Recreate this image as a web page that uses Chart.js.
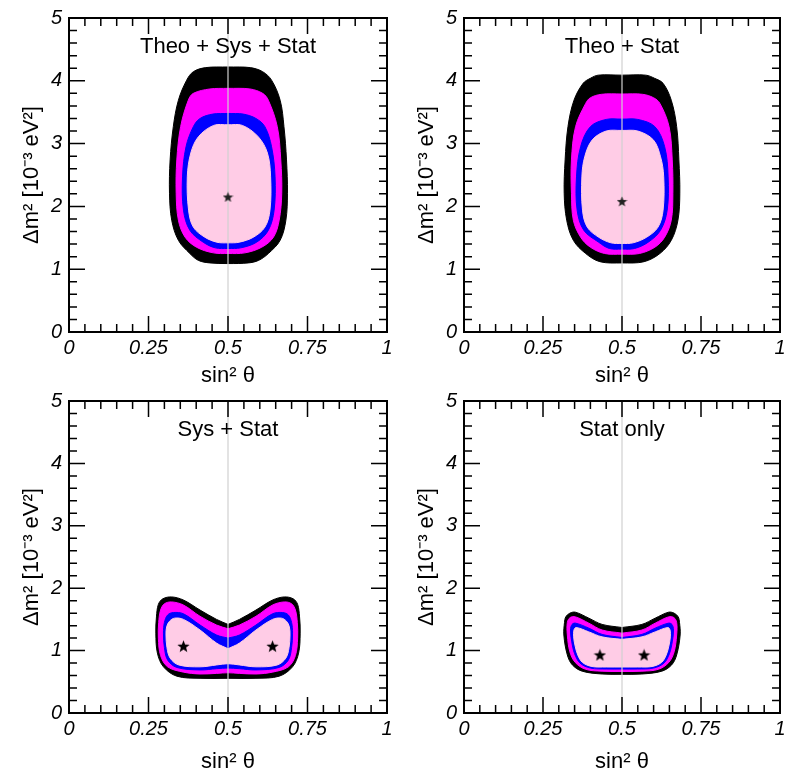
<!DOCTYPE html>
<html>
<head>
<meta charset="utf-8">
<script src="https://cdn.jsdelivr.net/npm/chart.js@4.4.1/dist/chart.umd.min.js"></script>
<style>
  html, body { margin: 0; padding: 0; background: #fff; }
  #wrap { position: relative; width: 787px; height: 774px; overflow: hidden; }
  canvas { position: absolute; }
</style>
</head>
<body>
<div id="wrap">
  <canvas id="p1" width="395" height="387" style="left:0;top:0"></canvas>
  <canvas id="p2" width="392" height="387" style="left:395px;top:0"></canvas>
  <canvas id="p3" width="395" height="387" style="left:0;top:387px"></canvas>
  <canvas id="p4" width="392" height="387" style="left:395px;top:387px"></canvas>
</div>
<script>
// axis ticks
const xTickLabels = ['0', '0.25', '0.5', '0.75', '1'];
const yTickLabels = ['0', '1', '2', '3', '4', '5'];
const panelTitles = ['Theo + Sys + Stat', 'Theo + Stat', 'Sys + Stat', 'Stat only'];
const titleLevel = 4.54;
const maxMixingLine = [[0.5, 0], [0.5, 5]];

// Theo + Sys + Stat  [sin^2 theta, dm^2]
const thssBlack = [[0.50,4.22],[0.57,4.21],[0.609,4.145],[0.637,4.01],[0.664,3.69],[0.676,3.27],[0.684,2.74],[0.687,2.21],[0.682,1.78],[0.664,1.46],[0.627,1.25],[0.596,1.14],[0.564,1.10],[0.50,1.09],[0.443,1.10],[0.407,1.14],[0.380,1.25],[0.344,1.46],[0.323,1.78],[0.316,2.21],[0.318,2.74],[0.328,3.27],[0.344,3.69],[0.370,4.01],[0.391,4.145],[0.43,4.21],[0.50,4.22]];
const thssMagenta = [[0.50,3.88],[0.569,3.87],[0.609,3.80],[0.627,3.69],[0.655,3.27],[0.666,2.74],[0.669,2.21],[0.661,1.78],[0.643,1.51],[0.606,1.35],[0.553,1.26],[0.50,1.25],[0.454,1.26],[0.401,1.35],[0.365,1.51],[0.344,1.78],[0.337,2.21],[0.339,2.74],[0.351,3.27],[0.375,3.69],[0.391,3.80],[0.443,3.87],[0.50,3.88]];
const thssBlue = [[0.50,3.48],[0.548,3.47],[0.588,3.40],[0.616,3.27],[0.637,2.95],[0.648,2.47],[0.645,1.94],[0.627,1.62],[0.590,1.43],[0.540,1.34],[0.50,1.33],[0.460,1.34],[0.422,1.43],[0.380,1.62],[0.360,1.94],[0.357,2.47],[0.368,2.95],[0.391,3.27],[0.412,3.40],[0.452,3.47],[0.50,3.48]];
const thssPink = [[0.50,3.30],[0.545,3.29],[0.595,3.11],[0.624,2.85],[0.634,2.47],[0.632,1.94],[0.616,1.67],[0.580,1.51],[0.535,1.43],[0.50,1.42],[0.465,1.43],[0.427,1.51],[0.391,1.67],[0.376,1.94],[0.372,2.47],[0.383,2.85],[0.407,3.11],[0.455,3.29],[0.50,3.30]];
const thssBest = [[0.50, 2.15]];

// Theo + Stat
const thstBlack = [[0.50,4.09],[0.575,4.09],[0.603,4.04],[0.630,3.96],[0.656,3.69],[0.673,3.27],[0.680,2.74],[0.683,2.21],[0.677,1.78],[0.656,1.46],[0.620,1.25],[0.57,1.12],[0.50,1.10],[0.43,1.12],[0.385,1.25],[0.346,1.46],[0.325,1.78],[0.317,2.21],[0.320,2.74],[0.329,3.27],[0.348,3.69],[0.377,3.96],[0.400,4.04],[0.425,4.09],[0.50,4.09]];
const thstMagenta = [[0.50,3.79],[0.565,3.785],[0.600,3.73],[0.620,3.64],[0.649,3.27],[0.659,2.74],[0.661,2.21],[0.656,1.78],[0.635,1.51],[0.604,1.35],[0.555,1.25],[0.50,1.24],[0.445,1.25],[0.400,1.35],[0.369,1.51],[0.346,1.78],[0.340,2.21],[0.340,2.74],[0.353,3.27],[0.385,3.64],[0.400,3.73],[0.435,3.785],[0.50,3.79]];
const thstBlue = [[0.50,3.39],[0.55,3.385],[0.604,3.27],[0.635,2.95],[0.646,2.47],[0.643,1.94],[0.622,1.62],[0.583,1.43],[0.54,1.33],[0.50,1.32],[0.46,1.33],[0.426,1.43],[0.379,1.62],[0.358,1.94],[0.356,2.47],[0.369,2.95],[0.400,3.27],[0.45,3.385],[0.50,3.39]];
const thstPink = [[0.50,3.21],[0.55,3.20],[0.599,3.06],[0.622,2.79],[0.632,2.47],[0.630,1.94],[0.614,1.67],[0.578,1.51],[0.535,1.42],[0.50,1.41],[0.465,1.42],[0.426,1.51],[0.390,1.67],[0.375,1.94],[0.373,2.47],[0.382,2.79],[0.406,3.06],[0.45,3.20],[0.50,3.21]];
const thstBest = [[0.50, 2.08]];

// Sys + Stat
const systBlack = [[0.50,1.42],[0.536,1.50],[0.588,1.65],[0.640,1.81],[0.677,1.86],[0.705,1.83],[0.719,1.74],[0.725,1.54],[0.727,1.28],[0.722,0.96],[0.703,0.74],[0.661,0.59],[0.588,0.556],[0.50,0.556],[0.412,0.556],[0.339,0.59],[0.297,0.74],[0.278,0.96],[0.273,1.28],[0.275,1.54],[0.281,1.74],[0.295,1.83],[0.323,1.86],[0.360,1.81],[0.412,1.65],[0.464,1.50],[0.50,1.42]];
const systMagenta = [[0.50,1.35],[0.536,1.41],[0.588,1.55],[0.640,1.73],[0.677,1.78],[0.700,1.75],[0.712,1.65],[0.718,1.45],[0.719,1.20],[0.712,0.92],[0.690,0.74],[0.640,0.655],[0.588,0.625],[0.536,0.635],[0.50,0.645],[0.464,0.635],[0.412,0.625],[0.360,0.655],[0.310,0.74],[0.288,0.92],[0.281,1.20],[0.282,1.45],[0.288,1.65],[0.300,1.75],[0.323,1.78],[0.360,1.73],[0.412,1.55],[0.464,1.41],[0.50,1.35]];
const systBlue = [[0.50,1.20],[0.536,1.25],[0.588,1.41],[0.640,1.59],[0.672,1.61],[0.690,1.57],[0.700,1.45],[0.703,1.28],[0.700,1.05],[0.690,0.85],[0.661,0.73],[0.588,0.69],[0.536,0.71],[0.50,0.72],[0.464,0.71],[0.412,0.69],[0.339,0.73],[0.310,0.85],[0.300,1.05],[0.297,1.28],[0.300,1.45],[0.310,1.57],[0.328,1.61],[0.360,1.59],[0.412,1.41],[0.464,1.25],[0.50,1.20]];
const systPink = [[0.50,1.03],[0.536,1.12],[0.588,1.33],[0.640,1.50],[0.668,1.52],[0.684,1.47],[0.693,1.38],[0.695,1.25],[0.692,1.05],[0.682,0.88],[0.655,0.77],[0.588,0.74],[0.536,0.77],[0.50,0.79],[0.464,0.77],[0.412,0.74],[0.345,0.77],[0.318,0.88],[0.308,1.05],[0.305,1.25],[0.307,1.38],[0.316,1.47],[0.332,1.52],[0.360,1.50],[0.412,1.33],[0.464,1.12],[0.50,1.03]];
const systBest = [[0.36, 1.07], [0.64, 1.07]];

// Stat only
const statBlack = [[0.50,1.37],[0.563,1.42],[0.605,1.52],[0.647,1.615],[0.665,1.60],[0.678,1.54],[0.682,1.45],[0.684,1.25],[0.673,0.93],[0.657,0.77],[0.626,0.67],[0.563,0.625],[0.50,0.62],[0.437,0.625],[0.374,0.67],[0.343,0.77],[0.327,0.93],[0.316,1.25],[0.318,1.45],[0.322,1.54],[0.335,1.60],[0.353,1.615],[0.395,1.52],[0.437,1.42],[0.50,1.37]];
const statMagenta = [[0.50,1.28],[0.563,1.33],[0.605,1.44],[0.647,1.54],[0.664,1.53],[0.673,1.45],[0.673,1.25],[0.665,0.98],[0.648,0.81],[0.615,0.70],[0.563,0.67],[0.50,0.665],[0.437,0.67],[0.385,0.70],[0.352,0.81],[0.335,0.98],[0.327,1.25],[0.327,1.45],[0.336,1.53],[0.353,1.54],[0.395,1.44],[0.437,1.33],[0.50,1.28]];
const statBlue = [[0.50,1.21],[0.563,1.26],[0.605,1.36],[0.647,1.44],[0.658,1.42],[0.663,1.33],[0.659,1.14],[0.650,0.95],[0.633,0.80],[0.600,0.72],[0.55,0.705],[0.50,0.705],[0.45,0.705],[0.400,0.72],[0.367,0.80],[0.350,0.95],[0.341,1.14],[0.337,1.33],[0.342,1.42],[0.353,1.44],[0.395,1.36],[0.437,1.26],[0.50,1.21]];
const statPink = [[0.50,1.18],[0.563,1.22],[0.605,1.30],[0.645,1.37],[0.652,1.33],[0.653,1.22],[0.649,1.09],[0.640,0.93],[0.625,0.81],[0.595,0.745],[0.55,0.737],[0.50,0.737],[0.45,0.737],[0.405,0.745],[0.375,0.81],[0.360,0.93],[0.351,1.09],[0.347,1.22],[0.348,1.33],[0.355,1.37],[0.395,1.30],[0.437,1.22],[0.50,1.18]];
const statBest = [[0.43, 0.93], [0.57, 0.93]];

const regionColors = ['#000000', '#ff00ff', '#0000ff', '#ffcce6'];
const FONT = '"Liberation Sans", Arial, Helvetica, sans-serif';
Chart.defaults.font.family = FONT;
Chart.defaults.color = '#000';

function starImage(size, color) {
  const c = document.createElement('canvas');
  c.width = c.height = size;
  const g = c.getContext('2d');
  const r = size / 2, ri = r * 0.42;
  g.beginPath();
  for (let i = 0; i < 10; i++) {
    const a = -Math.PI / 2 + i * Math.PI / 5;
    const rr = i % 2 ? ri : r;
    g.lineTo(r + rr * Math.cos(a), r * 1.08 + rr * Math.sin(a));
  }
  g.closePath();
  g.fillStyle = color;
  g.fill();
  return c;
}

// frame with inside ticks on all four sides, plus the panel label
const framePlugin = {
  id: 'frame',
  afterDatasetsDraw(chart, args, opts) {
    const { ctx, chartArea: a, scales: { x, y } } = chart;
    ctx.save();
    ctx.strokeStyle = '#000';
    ctx.lineWidth = 1.5;
    ctx.beginPath();
    for (let i = 0; i <= 20; i++) {
      const px = x.getPixelForValue(i * 0.05);
      const len = i % 5 === 0 ? 16 : 8;
      ctx.moveTo(px, a.bottom); ctx.lineTo(px, a.bottom - len);
      ctx.moveTo(px, a.top); ctx.lineTo(px, a.top + len);
    }
    for (let i = 0; i <= 25; i++) {
      const py = y.getPixelForValue(i * 0.2);
      const len = i % 5 === 0 ? 16 : 8;
      ctx.moveTo(a.left, py); ctx.lineTo(a.left + len, py);
      ctx.moveTo(a.right, py); ctx.lineTo(a.right - len, py);
    }
    ctx.stroke();
    ctx.lineWidth = 2;
    ctx.strokeRect(a.left, a.top, a.right - a.left, a.bottom - a.top);

    ctx.fillStyle = '#000';
    ctx.font = '22px ' + FONT;
    ctx.textAlign = 'center';
    ctx.textBaseline = 'middle';
    ctx.fillText(opts.text, x.getPixelForValue(0.5), y.getPixelForValue(titleLevel));
    ctx.restore();
  }
};

function makePanel(id, title, regions, best, star, padTop, xHeight, padRight, xTitlePad) {
  const datasets = regions.map((r, i) => ({
    data: r,
    borderColor: regionColors[i],
    backgroundColor: regionColors[i],
    borderWidth: 1,
    fill: 'shape',
    pointRadius: 0,
    tension: 0.35,
    order: 10 - i
  }));
  datasets.push({
    data: maxMixingLine,
    borderColor: '#d0d0d0',
    borderWidth: 1.2,
    fill: false,
    pointRadius: 0,
    order: 1
  });
  datasets.push({
    data: best,
    showLine: false,
    pointStyle: star,
    pointRadius: 6,
    order: 0
  });

  new Chart(document.getElementById(id), {
    type: 'line',
    data: { datasets },
    options: {
      responsive: false,
      animation: false,
      events: [],
      layout: { padding: { left: 0, right: padRight, top: padTop, bottom: 0 } },
      plugins: {
        legend: { display: false },
        tooltip: { enabled: false },
        frame: { text: title }
      },
      scales: {
        x: {
          type: 'linear', min: 0, max: 1,
          grid: { display: false, drawTicks: false },
          border: { display: false },
          ticks: {
            stepSize: 0.25, autoSkip: false, maxRotation: 0, padding: 4,
            font: { size: 20, style: 'italic' },
            callback: (v, i) => xTickLabels[i]
          },
          title: {
            display: true, text: 'sin² θ',
            font: { size: 22, lineHeight: 1 },
            padding: { top: 0, bottom: xTitlePad }
          },
          afterFit: s => { s.height = xHeight; s.paddingLeft = 0; s.paddingRight = 0; }
        },
        y: {
          type: 'linear', min: 0, max: 5,
          grid: { display: false, drawTicks: false },
          border: { display: false },
          ticks: {
            stepSize: 1, padding: 7,
            font: { size: 20, style: 'italic' },
            callback: (v, i) => yTickLabels[i]
          },
          title: {
            display: true, text: 'Δm² [10⁻³ eV²]',
            font: { size: 22, lineHeight: 1 },
            padding: { top: 21, bottom: 0 }
          },
          afterFit: s => { s.width = 69; s.paddingTop = 0; s.paddingBottom = 0; }
        }
      }
    },
    plugins: [framePlugin]
  });
}

const smallStar = starImage(11, '#222');
const bigStar = starImage(13, '#000');

makePanel('p1', panelTitles[0], [thssBlack, thssMagenta, thssBlue, thssPink], thssBest, smallStar, 18, 55, 8, 0);
makePanel('p2', panelTitles[1], [thstBlack, thstMagenta, thstBlue, thstPink], thstBest, smallStar, 18, 55, 4, 0);
makePanel('p3', panelTitles[2], [systBlack, systMagenta, systBlue, systPink], systBest, bigStar, 14, 61, 8, 1);
makePanel('p4', panelTitles[3], [statBlack, statMagenta, statBlue, statPink], statBest, bigStar, 14, 61, 4, 1);
</script>
</body>
</html>
